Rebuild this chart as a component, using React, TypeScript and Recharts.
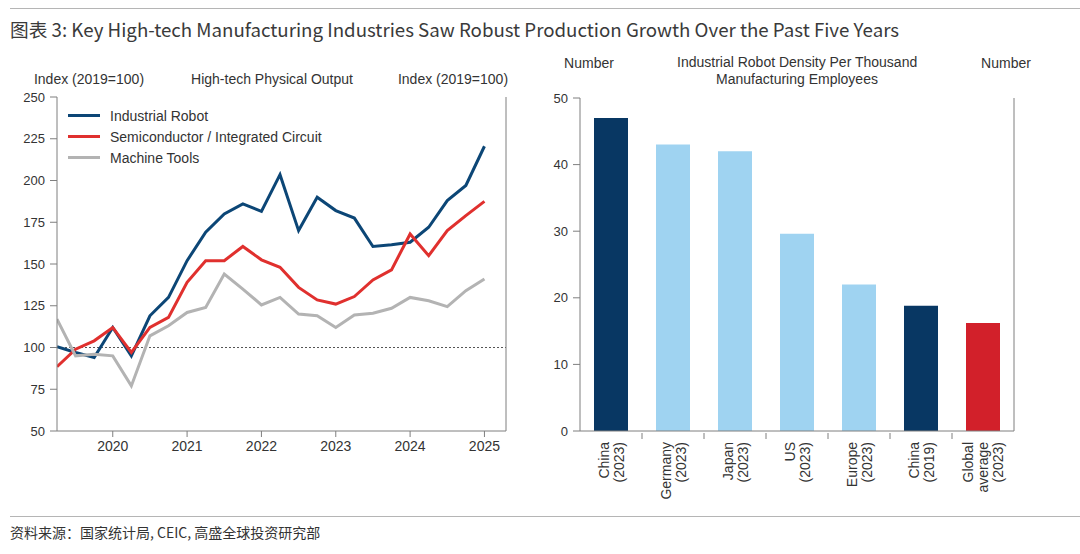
import React from "react";
import {
  LineChart,
  Line,
  BarChart,
  Bar,
  Cell,
  XAxis,
  YAxis,
  ReferenceLine,
} from "recharts";

// quarterly index, 2019 = 100
const periods = [
  "2019Q2", "2019Q3", "2019Q4",
  "2020Q1", "2020Q2", "2020Q3", "2020Q4",
  "2021Q1", "2021Q2", "2021Q3", "2021Q4",
  "2022Q1", "2022Q2", "2022Q3", "2022Q4",
  "2023Q1", "2023Q2", "2023Q3", "2023Q4",
  "2024Q1", "2024Q2", "2024Q3", "2024Q4",
  "2025Q1",
];
const robot = [100.5, 97, 94, 112, 95, 119, 130, 152, 169, 180, 186, 181.5, 203.5, 170, 190, 182, 177.5, 160.5, 161.5, 163, 172, 188, 197, 220.5];
const semiconductor = [88.5, 99, 104, 112, 97, 112, 118, 139, 152, 152, 160.5, 152.5, 148, 136, 128.5, 126, 130.5, 140.5, 146.5, 168, 155, 170, 179, 187.5];
const machineTools = [117, 95, 96, 95, 77, 107, 113, 121, 124, 144, 135, 125.5, 130, 120, 119, 112, 119.5, 120.5, 123.5, 130, 128, 124.5, 134, 141];

const yearTicks = [2020, 2021, 2022, 2023, 2024, 2025];
const indexTicks = [50, 75, 100, 125, 150, 175, 200, 225, 250];

// robot density per thousand manufacturing employees
const densityCategories = ["China (2023)", "Germany (2023)", "Japan (2023)", "US (2023)", "Europe (2023)", "China (2019)", "Global average (2023)"];
const density = [47, 43, 42, 29.6, 22, 18.8, 16.2];
const densityTicks = [0, 10, 20, 30, 40, 50];

const NAVY = "#083763";
const LIGHT = "#9fd3f1";
const RED = "#d2202a";

const densityColors = [NAVY, LIGHT, LIGHT, LIGHT, LIGHT, NAVY, RED];

const series = [
  { key: "robot", name: "Industrial Robot", color: "#0c4676" },
  { key: "semi", name: "Semiconductor / Integrated Circuit", color: "#e0302e" },
  { key: "tools", name: "Machine Tools", color: "#b3b3b3" },
];

const lineData = periods.map((p, i) => {
  const year = Number(p.slice(0, 4));
  const q = Number(p.slice(5));
  return {
    t: year + (q - 1) / 4,
    robot: robot[i],
    semi: semiconductor[i],
    tools: machineTools[i],
  };
});

const barData = densityCategories.map((name, i) => ({ name, value: density[i] }));

const SANS = '"Liberation Sans", Arial, sans-serif';
const CJK = '"Noto Sans CJK SC", "Noto Sans", sans-serif';
const TEXT = "#333333";
const AXIS = "#7f7f7f";

const CategoryTick = (props: any) => {
  const { x, y, payload, index } = props;
  const lines = String(payload.value).split(" ");
  const half = payload.offset ?? 31;
  const lh = 15;
  return (
    <g>
      {index > 0 && <line x1={x - half} x2={x - half} y1={y - 6} y2={y} stroke={AXIS} />}
      <g transform={`translate(${x},${y}) rotate(-90)`}>
        <text textAnchor="end" fontSize={14} fontFamily={SANS} fill={TEXT}>
          {lines.map((l, i) => (
            <tspan key={i} x={-3} y={(i - (lines.length - 1) / 2) * lh + 5}>
              {l}
            </tspan>
          ))}
        </text>
      </g>
    </g>
  );
};

const headerStyle: React.CSSProperties = {
  position: "absolute",
  fontFamily: SANS,
  fontSize: 14,
  color: TEXT,
  textAlign: "center",
  lineHeight: "17px",
  whiteSpace: "nowrap",
};

export default function App() {
  return (
    <div style={{ position: "absolute", left: 0, top: 0, width: 1080, height: 554, background: "#fff", overflow: "hidden" }}>
      <div style={{ position: "absolute", left: 10, right: 0, top: 8, height: 1, background: "#b5b5b5" }} />
      <div style={{ position: "absolute", left: 10, top: 15, fontFamily: CJK, fontSize: 18.7, color: "#3a3a3a", whiteSpace: "nowrap" }}>
        图表 3: Key High-tech Manufacturing Industries Saw Robust Production Growth Over the Past Five Years
      </div>

      <div style={{ ...headerStyle, left: 9, width: 160, top: 71 }}>Index (2019=100)</div>
      <div style={{ ...headerStyle, left: 172, width: 200, top: 71 }}>High-tech Physical Output</div>
      <div style={{ ...headerStyle, left: 373, width: 160, top: 71 }}>Index (2019=100)</div>

      <div style={{ ...headerStyle, left: 549, width: 80, top: 55 }}>Number</div>
      <div style={{ ...headerStyle, left: 677, width: 240, top: 54 }}>
        Industrial Robot Density Per Thousand
        <br />
        Manufacturing Employees
      </div>
      <div style={{ ...headerStyle, left: 966, width: 80, top: 55 }}>Number</div>

      <div style={{ position: "absolute", left: 0, top: 0 }}>
        <LineChart width={540} height={554} data={lineData} margin={{ top: 97, right: 4, bottom: 93, left: 12 }}>
          <XAxis
            dataKey="t"
            type="number"
            domain={[2019.25, 2025.29]}
            ticks={yearTicks}
            allowDataOverflow
            stroke={AXIS}
            tickSize={6}
            tickMargin={4}
            height={30}
            tick={{ fontSize: 14, fontFamily: SANS, fill: TEXT }}
          />
          <YAxis
            yAxisId="l"
            domain={[50, 250]}
            ticks={indexTicks}
            width={45}
            stroke={AXIS}
            tickSize={7}
            tickMargin={5}
            tick={{ fontSize: 13, fontFamily: SANS, fill: TEXT }}
          />
          <YAxis
            yAxisId="r"
            orientation="right"
            domain={[50, 250]}
            ticks={indexTicks}
            width={30}
            stroke={AXIS}
            tickSize={5}
            tickMargin={4}
            tick={{ fontSize: 13, fontFamily: SANS, fill: TEXT }}
          />
          <ReferenceLine yAxisId="l" y={100} stroke="#555" strokeDasharray="2 2" />
          {series.map((s) => (
            <Line
              key={s.key}
              yAxisId="l"
              dataKey={s.key}
              name={s.name}
              type="linear"
              stroke={s.color}
              strokeWidth={3}
              dot={false}
              isAnimationActive={false}
            />
          ))}
        </LineChart>
      </div>

      <div style={{ position: "absolute", left: 68, top: 105 }}>
        {series.map((s) => (
          <div key={s.key} style={{ display: "flex", alignItems: "center", height: 21 }}>
            <div style={{ width: 32, height: 3, background: s.color }} />
            <div style={{ marginLeft: 10, fontFamily: SANS, fontSize: 14, color: TEXT, whiteSpace: "nowrap" }}>{s.name}</div>
          </div>
        ))}
      </div>

      <div style={{ position: "absolute", left: 540, top: 0 }}>
        <BarChart width={540} height={554} data={barData} margin={{ top: 98, right: 26, bottom: 23, left: 8 }}>
          <XAxis
            dataKey="name"
            stroke={AXIS}
            tickLine={false}
            interval={0}
            height={100}
            tick={<CategoryTick />}
          />
          <YAxis
            yAxisId="l"
            domain={[0, 50]}
            ticks={densityTicks}
            width={32}
            stroke={AXIS}
            tickSize={7}
            tickMargin={5}
            tick={{ fontSize: 13, fontFamily: SANS, fill: TEXT }}
          />
          <YAxis
            yAxisId="r"
            orientation="right"
            domain={[0, 50]}
            ticks={densityTicks}
            width={40}
            stroke={AXIS}
            tickSize={5}
            tickMargin={3}
            tick={{ fontSize: 13, fontFamily: SANS, fill: TEXT }}
          />
          <Bar yAxisId="l" dataKey="value" barSize={34} isAnimationActive={false}>
            {barData.map((d, i) => (
              <Cell key={d.name} fill={densityColors[i]} />
            ))}
          </Bar>
        </BarChart>
      </div>

      <div style={{ position: "absolute", left: 10, right: 0, top: 516, height: 1, background: "#b5b5b5" }} />
      <div style={{ position: "absolute", left: 10, top: 522, fontFamily: CJK, fontSize: 14, color: TEXT, whiteSpace: "nowrap" }}>
        资料来源：国家统计局, CEIC, 高盛全球投资研究部
      </div>
    </div>
  );
}
